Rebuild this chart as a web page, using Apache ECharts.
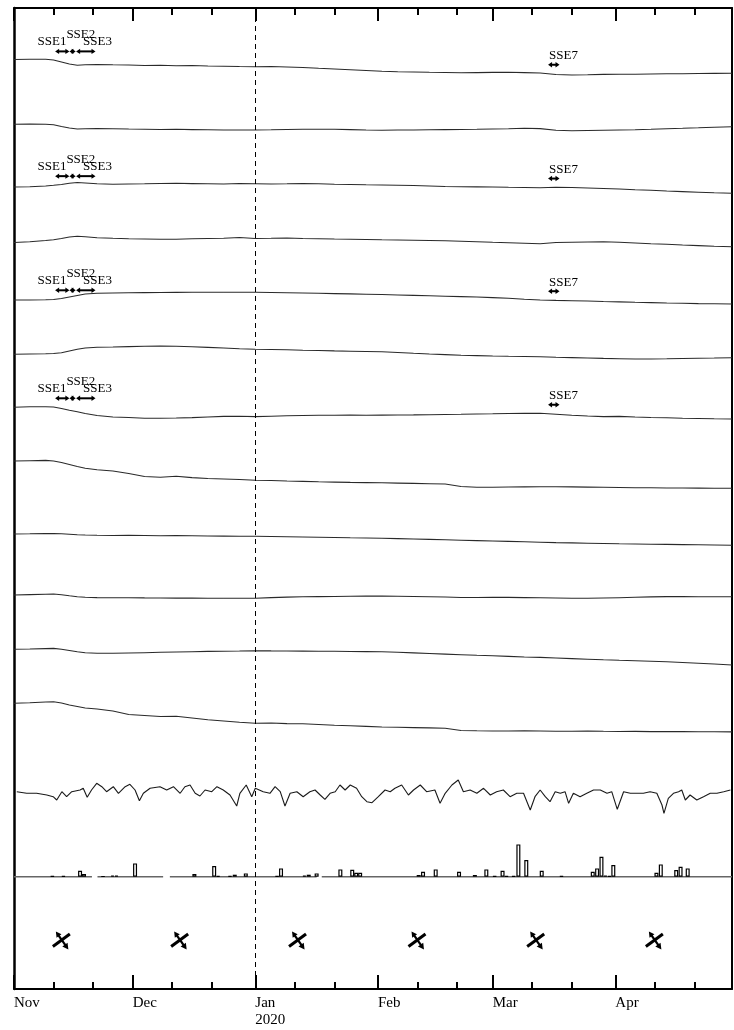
<!DOCTYPE html>
<html><head><meta charset="utf-8">
<script src="https://cdn.jsdelivr.net/npm/echarts@6/dist/echarts.min.js"></script>
<style>html,body{margin:0;padding:0;background:#fff}#c{width:734px;height:1030px}</style>
</head><body><div id="c"></div>
<script>
// ---- x positions: days since 2019-11-01 ----
const days = [0,4,8,10,12,14,16,18, 21,25,29,33,37,41,45,49,53,57, 61,65,69,73,77,81,85,89,93,97, 101,105,109,113,117,121,125,129,133,137, 141,145,149,153,157,161,165,169,173,177, 181.5];
const monthDays = [0,30,61,92,121,152];
const monthLabels = ['Nov','Dec','Jan\n2020','Feb','Mar','Apr'];
const minorDays = [10,20,40,50,71,81,102,112,131,141,162,172];
const eventDay = 61; // 2020-01-01

// ---- stacked-trace offsets (plot units, downward) ----
const offsets = [51.5,116.3,179,234.5,292,346.3,399.2,453,526,587,641.3,695.3];
// ---- trace deviations (plot units, positive = downward) ----
const t1 = [0,-0.2,-0.2,0.5,2.5,4.5,5.8,5.3, 5,5.3,5.5,6,5.8,6.2,6,6.5,6.7,7, 7.2,7,7.5,8,8.8,9.5,10.3,11,11.7,12.2, 12.5,12.8,13,13.3,13.1,12.9,12.8,13.1,13.5,15, 15.5,15.3,14.9,14.8,14.7,14.5,14.3,14.3,14,13.9, 13.8];
const t2 = [0,-0.3,-0.1,0.5,2.2,3.7,4.7,4.5, 4.2,4.4,4.7,4.9,5.2,5,5.3,5.5,5.7,5.7, 5.7,5.5,5.2,5,5,5,5.3,5.7,5.9,5.7, 5.7,5.5,5.3,5.2,5,4.7,4.4,4,4.3,5.9, 6.4,6.2,6,5.7,5.5,5,4.4,4,3.5,2.9, 2.4];
const t3 = [0,-0.3,-1,-1.7,-2.5,-3.7,-4.5,-4, -3.2,-2.8,-3,-3.2,-3.5,-3.7,-3.4,-3.2,-3,-3.5, -3.3,-3,-3.2,-3.5,-3.2,-2.8,-2.5,-2.2,-2,-1.8, -1.5,-1,-0.5,-0.2,-0.1,0,0.3,0.5,0.8,0.3, 0.5,1,1.5,2,2.7,3.3,4,4.6,5.2,5.8, 6.3];
const t4 = [0,-0.7,-2,-2.8,-4,-5.5,-6.3,-5.7, -4.7,-4.2,-3.8,-3.5,-3.2,-3.3,-3.7,-4,-4.2,-5, -4,-4.2,-4.5,-4,-3.8,-3.5,-3.3,-3,-2.7,-2.5, -2.3,-2,-1.7,-1.2,-0.7,-0.2,0.2,0.7,1.3,0, -0.3,-0.5,-0.7,-0.2,0.5,1.2,1.8,2.5,3.1,3.7, 4.2];
const t5 = [0,0,-0.2,-0.5,-1.5,-3,-4.5,-6, -6.7,-7,-7.2,-7.4,-7.5,-7.6,-7.7,-7.8,-7.7,-7.8, -7.7,-7.5,-7.3,-7,-6.7,-6.4,-6.1,-5.8,-5.5,-5, -4.6,-4.2,-3.8,-3.4,-3,-2.4,-1.7,-0.8,0,0.4, 0.7,1,1.5,1.9,2.3,2.6,3,3.3,3.6,3.8, 4];
const t6 = [0,-0.3,-0.5,-0.8,-1.5,-3.3,-5,-6.3, -7,-7.3,-7.7,-8.1,-8.3,-8,-7.5,-6.9,-6.3,-5.6, -5,-4.8,-4.5,-4.1,-3.8,-3.4,-3.1,-2.8,-2.5,-1.8, -1,-0.3,0.3,0.9,1.3,1.7,2,2.2,2.4,2.9, 3.3,3.7,4.1,4.4,4.7,4.7,4.5,4.2,3.9,3.7, 3.4];
const t7 = [0,-0.4,-0.5,-0.2,1.3,3.1,4.6,6.3, 8.3,9.8,10.3,11,11.1,10.8,10.4,9.8,9.2,9, 9.4,9,8.6,8.3,8.1,8,7.8,8,7.9,7.8, 7.7,7.5,7.3,7.1,6.8,6.6,6.3,6.2,6.1,7, 8,8.8,9.4,9.2,9.8,10.3,10.6,11,11.3,11.6, 11.8];
const t8 = [0,-0.3,-0.6,0,1.5,3.5,5.5,7.3, 8.7,10,12.5,15.5,16.2,15.2,16.6,17.5,18,18.5, 19.2,19.5,20,20.4,20.8,21.1,21.4,21.6,21.8,22.1, 22.4,22.7,23,25.5,26.3,26.2,26,25.9,25.8,25.7, 25.9,26.1,26.3,26.5,26.7,26.8,27,27,27.1,27.2, 27.3];
const t9 = [0,-0.2,-0.5,-0.4,-0.2,0.2,0.7,1, 1.3,1.5,1.3,1.5,1.7,1.6,1.8,2,2.1,2.2, 2.3,2.5,2.7,3,3.2,3.5,3.8,4,4.3,4.6, 5,5.4,5.8,6.2,6.6,7,7.4,7.8,8.2,8.6, 8.9,9.2,9.5,9.8,10,10.2,10.4,10.6,10.8,11, 11.2];
const t10 = [0,-0.4,-0.8,-1,-0.3,0.8,1.7,2.3, 2.6,2.8,2.7,2.9,3,3.1,3.1,3.2,3.3,3.2, 3.3,2.6,2.1,1.8,1.6,1.5,1.2,1,1.1,1.3, 1.5,1.7,2,2.5,2.5,2.3,2.4,2.6,2.8,3, 3.2,3.3,3,2.7,2.3,1.9,1.6,1.6,1.7,1.7, 1.7];
const t11 = [0,-0.3,-0.7,-0.9,-0.1,1.2,2.5,3.5, 4,3.9,3.7,3.4,3,2.7,2.4,2.1,1.9,1.7, 1.4,1.6,1.7,1.8,1.9,2,2.2,2.3,2.5,3, 3.6,4.2,4.8,5.4,6,6.5,7.1,7.7,8.1,8.7, 9.3,9.9,10.5,11,11.4,11.9,12.5,13.2,13.9,14.7, 15.7];
const t12 = [0,-0.5,-1.3,-1.6,-0.3,1.7,3.2,4.7, 5.7,7.7,11.2,12.2,13.2,13,14.7,16.5,17.7,18.9, 20,19.7,20.3,20.5,21.2,22,22.5,23.1,23.7,23.9, 24.3,24.6,25,27.2,27.5,27.7,27.7,27.5,27.7,27.9, 28,27.7,28,28.2,28.1,28.3,28.3,28.2,28.4,28.4, 28.6];

// ---- fluctuating record ----
const wiggleOffset = 787;
const wiggleDays = [0.7,3.2,5.7,8.3,9.9,10.8,12.1,13.3,14.6,16.7, 17.5,18.5,19.6,20.9,22.2,23.4,25.1,26.4,28.1,29.3, 30.6,31.7,32.7,34.4,36.9,38.6,40.3,42,43.2,44.5, 45.8,47,48.3,50,51.3,52.9,54.6,56.3,57.1,58.7, 60.1,61,63,64.7,66,67.3,68.5,69.8,71.5,73.1, 74.8,76.1,77.4,78.6,79.9,81.2,82.4,83.7,85,86.6, 87.9,89.2,90.5,92.1,93.8,95.1,96.3,98,99.7,101, 102.7,104.3,106.4,107.7,109,110.7,112.3,113.6,115.3,117, 118.7,120.4,122,123.7,125.4,127.1,128.8,130.5,131.7,133, 134.3,135.5,136.8,138.1,139.3,140.2,141.4,143.1,144.8,146.5, 148.2,149.9,151.1,152.5,154.1,155.8,157.4,159.1,160.8,162.5, 163.8,164.3,165.4,166.7,168,168.8,169.7,170.9,172.6,174.3, 176,177.7,179.4,181.1];
const wiggleVals = [-3.3,-1.7,-1.7,0,1.7,5,-3.3,1.7,-3.3,-5, -6.7,2.3,-5,-11.7,-8.3,-3.3,-8.3,-1.7,-8.3,-10.7, -5,5.7,-1.7,-6.7,-8.3,-5,-8.3,-1.7,-8.3,-10, -1.7,1,-5,-3.3,-8.3,-5,0,11,-1.7,-10, 1.7,-6.7,-3.3,-1.7,-8.3,-3.3,11,-1.7,-3.3,1.7, -3.3,-5,0,4.3,-1.7,-3.3,-10,-5,-10,-6.7, 1.7,6.7,7.7,1.7,-5,-3.3,-6.7,-10,0,-5, -10,-3.3,-5,8.3,-1.7,-10,-15,-3.3,-5,-1.7, -6.7,0,-3.3,-5,1.7,-1.7,-1.7,15,1.7,-5, 1.7,6.7,-3.3,-1.7,-3.3,8.3,-1.7,1.7,-1.7,-5, -5,-1.7,-3.3,14.3,-3.3,-1.7,-1.7,-1.7,-3.3,-1.7, 10,18.3,3.3,-1.7,-3.3,-5,5,0,5,1.7, -1.7,-1.7,-3.3,-5];

// ---- daily rainfall ----
const rainDays = [9.7,12.5,16.7,17.7,22.5,24.9,25.9,30.6,45.6,50.6,51.6,54.6,55.8,58.6,66.5,67.5,73.4,74.5,76.5,82.5,85.5,86.5,87.5,102.3,103.4,106.6,112.5,116.5,119.4,121.5,123.5,124.5,126.3,127.5,129.5,133.4,138.4,146.3,147.4,148.5,149.5,150.5,151.5,162.4,163.5,167.4,168.5,170.3];
const rainVals = [0.5,0.7,6,2.7,0.4,1.2,1,13.3,2.7,10.7,0.8,0.6,2,3.3,0.5,8.3,1,2,3.3,7.3,7,4,4,1.7,5,7.3,5,1.7,7.3,0.5,6,0.6,0.6,32.3,16.7,6,0.6,5,8.3,20,1,0.8,11.7,4,12.3,6.7,10,8.3];
const rainRecorded = [[0,19.7],[21.1,37.7],[39.4,76.5],[77.8,181.5]];

// ---- strain crosses ----
const crossDays = [12.1,42,71.8,102,132,162];
const crossLevel = 932;

// ---- slow slip events ----
const sseNames = ['SSE1','SSE2','SSE3','SSE7'];
const sseStart = [10.4,14,15.7,135];
const sseEnd = [14,15.6,20.6,137.9];
const ssePanels = [0,2,4,6];

const traces = [t1,t2,t3,t4,t5,t6,t7,t8,t9,t10,t11,t12];
const FONT = '"Liberation Serif","Times New Roman",serif';

function zip(xs, ys, off){ return xs.map((d,i)=>[d, off + ys[i]]); }
function levelAt(k, d){
  const ys = traces[k];
  for (let i=1;i<days.length;i++){
    if (d <= days[i]){ const f=(d-days[i-1])/(days[i]-days[i-1]); return offsets[k]+ys[i-1]+f*(ys[i]-ys[i-1]); }
  }
  return offsets[k]+ys[ys.length-1];
}

const annot = [];
ssePanels.forEach(p => sseNames.forEach((n,e) => annot.push({p:p, e:e})));

// label placement styles per event (pixel offsets)
const labelStyle = [
  {anchor:'end', dx:-3, dy:-9.5, align:'right'},
  {anchor:'start', dx:-3, dy:-16.5, align:'left'},
  {anchor:'start', dx:7, dy:-9.5, align:'left'},
  {anchor:'start', dx:1, dy:-9, align:'left'}
];

function head(px, py, dx, dy, L, W){
  return {type:'polygon', shape:{points:[[px,py],[px-dx*L+dy*W, py-dy*L-dx*W],[px-dx*L-dy*W, py-dy*L+dx*W]]}, style:{fill:'#000'}};
}

const series = [];
traces.forEach((t,k) => {
  const s = {type:'line', xAxisIndex:0, yAxisIndex:0, data: zip(days, t, offsets[k]), symbol:'none', showSymbol:false, silent:true,
    lineStyle:{color:'#2a2a2a', width:1.1}, z:3};
  if (k === 0){
    s.markLine = {silent:true, symbol:'none', label:{show:false}, animation:false,
      lineStyle:{type:[5,4], color:'#000', width:1}, data:[{xAxis:eventDay}]};
  }
  series.push(s);
});
series.push({type:'line', xAxisIndex:0, yAxisIndex:0, data: zip(wiggleDays, wiggleVals, wiggleOffset), symbol:'none', silent:true,
  lineStyle:{color:'#1a1a1a', width:1.1}, z:3});
series.push({type:'custom', xAxisIndex:0, yAxisIndex:2, silent:true, data: rainRecorded,
  renderItem: (params, api) => {
    const a = api.coord([api.value(0), 0]), b = api.coord([api.value(1), 0]);
    return {type:'line', shape:{x1:a[0], y1:a[1], x2:b[0], y2:b[1]}, style:{stroke:'#666', lineWidth:1.5}};
  }, z:2});
series.push({type:'bar', xAxisIndex:0, yAxisIndex:2, silent:true, data: rainDays.map((d,i)=>[d, rainVals[i]]), barWidth:4,
  itemStyle:{color:'#fff', borderColor:'#000', borderWidth:1.2}, z:4});
series.push({type:'custom', xAxisIndex:0, yAxisIndex:0, silent:true, data: crossDays.map(d=>[d, crossLevel]),
  renderItem: (params, api) => {
    const c = api.coord([api.value(0), api.value(1)]);
    const x = c[0], y = c[1];
    const ax1 = x-9, ay1 = y+6.5, ax2 = x+8, ay2 = y-6;
    const bx1 = x-6, by1 = y-8.5, bx2 = x+6.5, by2 = y+9.5;
    const len = Math.hypot(bx2-bx1, by2-by1), ux = (bx2-bx1)/len, uy = (by2-by1)/len;
    return {type:'group', children:[
      {type:'line', shape:{x1:ax1,y1:ay1,x2:ax2,y2:ay2}, style:{stroke:'#000', lineWidth:3}},
      {type:'line', shape:{x1:bx1+ux*4,y1:by1+uy*4,x2:bx2-ux*4,y2:by2-uy*4}, style:{stroke:'#000', lineWidth:2.2}},
      head(bx2, by2, ux, uy, 6, 3.2),
      head(bx1, by1, -ux, -uy, 5.5, 3)
    ]};
  }, z:5});
series.push({type:'custom', xAxisIndex:0, yAxisIndex:0, silent:true, data: annot.map(a=>[sseStart[a.e], offsets[a.p]]),
  renderItem: (params, api) => {
    const a = annot[params.dataIndex];
    const refDay = a.e < 3 ? sseStart[0] : sseStart[3];
    const lv = levelAt(a.p, refDay);
    const y = api.coord([refDay, lv])[1] - 9;
    const x1 = api.coord([sseStart[a.e], lv])[0], x2 = api.coord([sseEnd[a.e], lv])[0];
    const ls = labelStyle[a.e];
    const tx = (ls.anchor === 'end' ? x2 : x1) + ls.dx;
    return {type:'group', children:[
      {type:'line', shape:{x1:x1+2, y1:y, x2:x2-2, y2:y}, style:{stroke:'#000', lineWidth:2}},
      head(x1, y, -1, 0, 4, 2.7),
      head(x2, y, 1, 0, 4, 2.7),
      {type:'text', style:{text:sseNames[a.e], x:tx, y:y+ls.dy, fill:'#000', font:'13px ' + FONT, align:ls.align, verticalAlign:'middle'}}
    ]};
  }, z:6});

const xBase = {type:'value', min:0, max:181.5, splitLine:{show:false}, axisLabel:{show:false}, axisTick:{show:false}, axisLine:{show:false, onZero:false}};
const tickStyle = {color:'#000', width:2};
const option = {
  animation:false,
  backgroundColor:'#fff',
  grid:{left:14, right:2, top:8, bottom:41, containLabel:false},
  xAxis:[
    Object.assign({}, xBase, {position:'bottom',
      axisLine:{show:true, onZero:false, lineStyle:{color:'#000', width:2}},
      axisTick:{show:true, inside:true, length:14, customValues:monthDays, lineStyle:tickStyle},
      axisLabel:{show:true, customValues:monthDays, formatter:(v)=>{const i = monthDays.indexOf(v); return i>=0 ? monthLabels[i] : '';},
        align:'left', margin:6, fontFamily:FONT, fontSize:15, lineHeight:17, color:'#000'}}),
    Object.assign({}, xBase, {position:'bottom',
      axisTick:{show:true, inside:true, length:7, customValues:minorDays, lineStyle:tickStyle}}),
    Object.assign({}, xBase, {position:'top',
      axisLine:{show:true, onZero:false, lineStyle:{color:'#000', width:2}},
      axisTick:{show:true, inside:true, length:13, customValues:monthDays, lineStyle:tickStyle}}),
    Object.assign({}, xBase, {position:'top',
      axisTick:{show:true, inside:true, length:7, customValues:minorDays, lineStyle:tickStyle}})
  ],
  yAxis:[
    {type:'value', inverse:true, min:0, max:981, position:'left', splitLine:{show:false}, axisTick:{show:false}, axisLabel:{show:false},
      axisLine:{show:true, onZero:false, lineStyle:{color:'#000', width:2.5}}},
    {type:'value', inverse:true, min:0, max:981, position:'right', splitLine:{show:false}, axisTick:{show:false}, axisLabel:{show:false},
      axisLine:{show:true, onZero:false, lineStyle:{color:'#000', width:2}}},
    {type:'value', min:-112.3, max:868.7, show:false, splitLine:{show:false}}
  ],
  series: series
};
const chart = echarts.init(document.getElementById('c'), null, {renderer:'canvas', width:734, height:1030});
chart.setOption(option);
</script>
</body></html>
